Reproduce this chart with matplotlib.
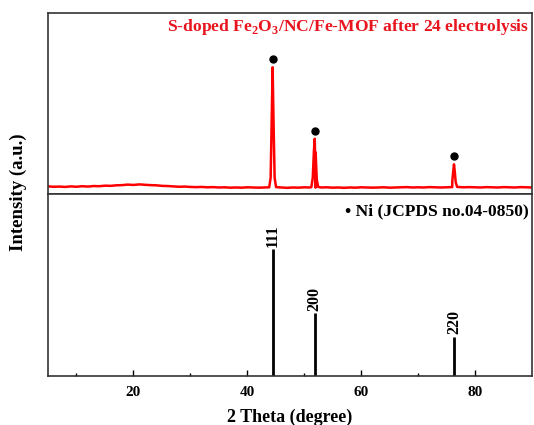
import numpy as np
import matplotlib
matplotlib.use('Agg')
import matplotlib.pyplot as plt

# Fonts: bold Times-like everywhere
plt.rcParams['font.family'] = 'Liberation Serif'
plt.rcParams['font.weight'] = 'bold'
plt.rcParams['axes.labelweight'] = 'bold'
plt.rcParams['mathtext.fontset'] = 'custom'
plt.rcParams['mathtext.rm'] = 'Liberation Serif:bold'
plt.rcParams['mathtext.bf'] = 'Liberation Serif:bold'

# Measured pattern (upper panel), baseline read every degree
base_x = list(range(5, 91))
base_y = [4.2, 4.0, 4.1, 3.9, 4.2, 4.0, 4.3, 4.1, 4.4, 4.3, 4.6, 4.5, 4.8, 4.9, 5.2,
          5.0, 5.3, 5.1, 4.9, 4.8, 4.5, 4.4, 4.2, 4.0, 4.1, 3.9, 3.8, 3.9, 3.7, 3.8,
          3.6, 3.7, 3.5, 3.6, 3.5, 3.7, 3.6, 3.5, 3.6, 3.7, 3.5, 3.6, 3.4, 3.6, 3.5,
          3.7, 3.6, 3.5, 3.6, 3.7, 3.5, 3.6, 3.4, 3.6, 3.5, 3.7, 3.6, 3.5, 3.6, 3.7,
          3.5, 3.6, 3.7, 3.8, 3.6, 3.7, 3.6, 3.8, 3.7, 3.6, 3.7, 3.8, 3.6, 3.7, 3.8,
          3.7, 3.6, 3.8, 3.7, 3.6, 3.8, 3.7, 3.6, 3.8, 3.7, 3.6]
peak_x = [43.85, 44.1, 44.28, 44.45, 44.62, 44.8, 45.05,
          51.25, 51.5, 51.7, 51.85, 52.0, 52.2, 52.45,
          75.75, 76.0, 76.18, 76.3, 76.45, 76.6, 76.85]
peak_y = [3.7, 9.0, 40.0, 70.0, 38.0, 9.0, 3.8,
          3.8, 9.0, 24.0, 30.5, 23.0, 8.0, 3.9,
          3.8, 7.0, 13.0, 16.4, 12.0, 6.5, 3.9]

# Ni reference (JCPDS 04-0850)
ni_pos = [44.5, 51.85, 76.37]
ni_int = [69.6, 34.4, 21.6]
ni_hkl = ['111', '200', '220']
obs_peak = [70.0, 30.5, 16.4]

# Merge baseline and peaks (drop baseline points that fall inside a peak)
pts = sorted(zip(base_x + peak_x, base_y + peak_y))
keep = [p for p in pts if p[0] in peak_x or all(abs(p[0] - c) > 0.7 for c in ni_pos)]
xx = [p[0] for p in keep]
yy = [p[1] for p in keep]

fig = plt.figure(figsize=(5.34, 4.25), dpi=100)
ax1 = fig.add_axes([48/534, 1-194/425, (532-48)/534, 181/425])
ax2 = fig.add_axes([48/534, 1-376/425, (532-48)/534, 182/425])

for ax in (ax1, ax2):
    ax.set_xlim(5, 90)
    ax.set_ylim(0, 100)
    for s in ax.spines.values():
        s.set_linewidth(1.2)
        s.set_color('#333333')
    ax.set_yticks([])

# Upper panel
ax1.plot(xx, yy, color='#ff0000', lw=1.8)
ax1.plot(ni_pos, [v + 4.4 for v in obs_peak], 'o', color='black', ms=5)
ax1.set_xticks([])
ax1.text(0.995, 0.92, r'S-doped Fe$_{2}$O$_{3}$/NC/Fe-MOF after 24 electrolysis',
         transform=ax1.transAxes, ha='right', va='center', color='#e8141e', fontsize=12.6)

# Lower panel
ax2.vlines(ni_pos, 0, ni_int, color='black', lw=2)
for p, h, lab in zip(ni_pos, ni_int, ni_hkl):
    ax2.text(p, h + 1.5, lab, rotation=90, ha='center', va='bottom', fontsize=11.5)
ax2.text(0.994, 0.905, u'\u2022 Ni (JCPDS no.04-0850)', transform=ax2.transAxes,
         ha='right', va='center', fontsize=12.6)

ax2.set_xticks([20, 40, 60, 80])
ax2.set_xticks([10, 30, 50, 70], minor=True)
ax2.tick_params(axis='x', which='major', direction='in', length=4, width=1, labelsize=11, pad=7)
ax2.tick_params(axis='x', which='minor', direction='in', length=2.5, width=1)
ax2.set_xlabel('2 Theta (degree)', fontsize=13, labelpad=7)

fig.text(18/534, 1-192/425, 'Intensity (a.u.)', rotation=90, ha='center', va='center',
         fontsize=13.5, fontweight='bold')

plt.savefig('out.png', dpi=100)
